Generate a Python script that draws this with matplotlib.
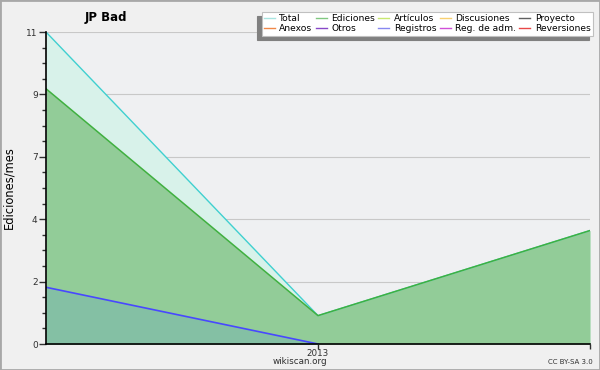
import matplotlib
matplotlib.use("Agg")
import matplotlib.pyplot as plt
from matplotlib.lines import Line2D
import numpy as np

x_pos = [0, 1, 2]
total = [11, 1, 4]
ediciones = [9, 1, 4]
registros = [2, 0, 0]
xtick_labels = ["2013"]
ytick_vals = [0, 2.2, 4.4, 6.6, 8.8, 11]
ytick_labels = ["0", "2", "4", "7", "9", "11"]

legend_names = ["Total", "Ediciones", "Artículos", "Discusiones", "Proyecto",
                "Anexos", "Otros", "Registros", "Reg. de adm.", "Reversiones"]
legend_colors = ["#a8e4e0", "#80c880", "#c8e870", "#f8d070", "#606060",
                 "#f08848", "#8848c8", "#8888f0", "#d050d8", "#e84848"]

plt.rcParams['font.family'] = ['DejaVu Sans']
fig = plt.figure(figsize=(6, 3.7), dpi=100, facecolor="#f0f0f0")
ax = fig.add_axes([46/600, 1-344/370, (590-46)/600, (344-32)/370])
ax.set_facecolor("#eff0f2")

ax.fill_between(x_pos, total, 0, color="#d8f2ea", lw=0)
ax.plot(x_pos, total, color="#40d0d0", lw=1)
ax.fill_between(x_pos, ediciones, 0, color="#92cc98", lw=0)
ax.plot(x_pos, ediciones, color="#40b040", lw=1.1)
ax.fill_between(x_pos[:2], registros[:2], 0, color="#84c0a4", lw=0)
ax.plot(x_pos[:2], registros[:2], color="#4848ff", lw=1.2)

ax.set_xlim(0, 2)
ax.set_ylim(0, 11)
ax.set_yticks(ytick_vals)
ax.set_yticklabels(ytick_labels)
ax.set_yticks(np.arange(0, 11.01, 0.55), minor=True)
ax.set_xticks([1, 2])
ax.set_xticklabels(xtick_labels + [""])
ax.tick_params(axis='y', which='major', length=5, width=1, labelsize=6.5, colors="#303030", pad=1)
ax.tick_params(axis='y', which='minor', length=3, width=1, color="#303030")
ax.tick_params(axis='x', which='major', length=3.5, width=1, labelsize=6.3, colors="#303030", pad=0)
ax.grid(axis='y', which='major', color="#c8c8c8", lw=0.8)
ax.set_axisbelow(True)
for s in ["top", "right"]:
    ax.spines[s].set_visible(False)
for s in ["left", "bottom"]:
    ax.spines[s].set_color("black")
    ax.spines[s].set_linewidth(1.2)
ax.set_ylabel("Ediciones/mes", fontsize=8.3)
ax.yaxis.set_label_coords(-31/544, 0.5)

fig.text(105.5/600, 1-17/370, "JP Bad", fontsize=8.5, fontweight="bold", ha="center", va="center")
fig.text(300/600, 1-362/370, "wikiscan.org", fontsize=6.3, ha="center", va="center", color="#303030")
fig.text(570/600, 1-362/370, "CC BY-SA 3.0", fontsize=5, ha="center", va="center", color="#303030")

# legend order for column-major fill
order = [0, 5, 1, 6, 2, 7, 3, 8, 4, 9]
handles = [Line2D([], [], color=legend_colors[i], lw=1) for i in order]
labels = [legend_names[i] for i in order]
leg = fig.legend(handles, labels, ncol=5, loc="upper right",
                 bbox_to_anchor=(593/600, 1-12/370), fontsize=6.6,
                 frameon=True, fancybox=False,
                 shadow={'ox': -3, 'oy': -3, 'color': '#808080', 'alpha': 1},
                 handlelength=1.2, handletextpad=0.5, columnspacing=0.35,
                 labelspacing=0.1, borderpad=0.25, borderaxespad=0)
leg.get_frame().set_edgecolor("#c0c0c0")
leg.get_frame().set_linewidth(0.8)

# figure border
fig.patches.append(plt.Rectangle((0, 0), 1, 1, transform=fig.transFigure,
                                 fill=False, edgecolor="#a8a8a8", lw=2))

fig.savefig("out.png", dpi=100, facecolor=fig.get_facecolor())
